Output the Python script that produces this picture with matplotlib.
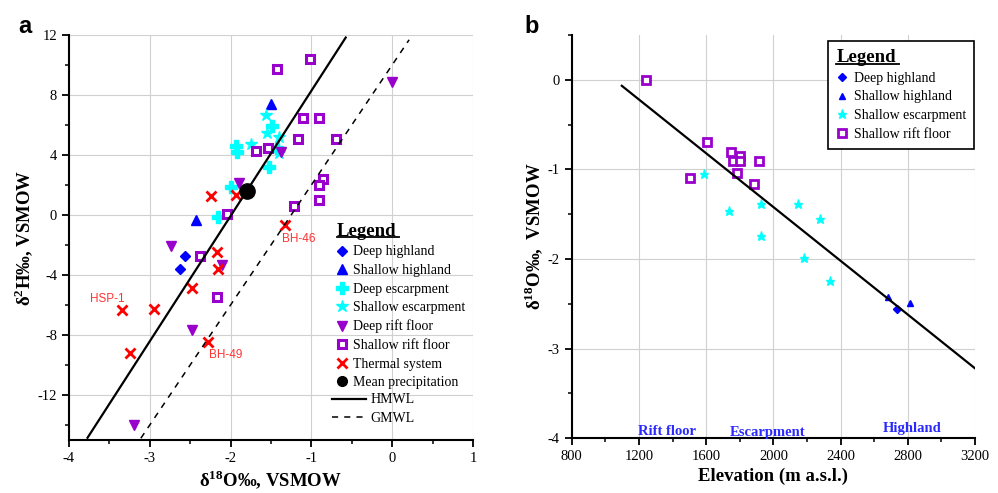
import matplotlib
matplotlib.use("Agg")
import matplotlib.pyplot as plt
from matplotlib.lines import Line2D
from matplotlib.ticker import MultipleLocator

plt.rcParams['font.family'] = ['Liberation Serif', 'DejaVu Serif']
plt.rcParams['mathtext.fontset'] = 'custom'
plt.rcParams['mathtext.rm'] = 'Liberation Serif'
plt.rcParams['mathtext.bf'] = 'Liberation Serif:bold'
plt.rcParams['axes.unicode_minus'] = False

# ---- panel a : d2H vs d18O ----
deep_hl_o = [-2.57, -2.63]
deep_hl_h = [-2.73, -3.58]
shallow_hl_o = [-1.50, -2.43]
shallow_hl_h = [7.42, -0.31]
deep_esc_o = [-1.49, -1.93, -1.92, -1.42, -1.53, -2.00, -2.16]
deep_esc_h = [5.96, 4.57, 4.17, 4.50, 3.20, 1.84, -0.11]
shallow_esc_o = [-1.56, -1.55, -1.40, -1.75, -1.40]
shallow_esc_h = [6.69, 5.47, 5.18, 4.73, 4.13]
deep_rf_o = [0.0, -1.38, -1.89, -2.74, -2.10, -2.48, -3.20]
deep_rf_h = [8.84, 4.20, 2.13, -2.09, -3.36, -7.69, -14.02]
shallow_rf_o = [-1.02, -1.43, -1.10, -0.91, -1.17, -0.70, -1.69, -1.54,
                -0.86, -0.91, -0.91, -1.21, -2.04, -2.38, -2.17]
shallow_rf_h = [10.42, 9.76, 6.44, 6.44, 5.09, 5.04, 4.24, 4.49,
                2.42, 1.98, 1.02, 0.60, 0.09, -2.73, -5.44]
thermal_o = [-2.24, -1.93, -1.33, -2.17, -2.15, -2.48, -3.34, -2.95, -2.28, -3.24]
thermal_h = [1.24, 1.31, -0.64, -2.49, -3.58, -4.84, -6.33, -6.29, -8.49, -9.22]
mean_precip_o = [-1.80]
mean_precip_h = [1.60]

hmwl_slope, hmwl_icpt, hmwl_x = 8.35, 16.63, [-3.77, -0.575]
gmwl_slope, gmwl_icpt, gmwl_x = 8.0, 10.0, [-3.11, 0.21]

well_labels = ["HSP-1", "BH-46", "BH-49"]
well_label_pos = [(-3.53, -5.6), (-1.15, -1.58), (-2.06, -9.31)]

# ---- panel b : d18O vs elevation ----
b_srf_elev = [1240, 1603, 1748, 1802, 1758, 1802, 1915, 1786, 1504, 1883]
b_srf_o = [0.0, -0.69, -0.81, -0.85, -0.91, -0.91, -0.91, -1.04, -1.10, -1.16]
b_sesc_elev = [1589, 1736, 1927, 2149, 2278, 1927, 2183, 2339]
b_sesc_o = [-1.05, -1.46, -1.39, -1.39, -1.55, -1.74, -1.99, -2.25]
b_shl_elev = [2680, 2813]
b_shl_o = [-2.42, -2.49]
b_dhl_elev = [2738]
b_dhl_o = [-2.56]
trend_slope, trend_icpt, trend_x = -0.0015, 1.58, [1098, 3200]

zone_names = ["Rift floor", "Escarpment", "Highland"]
zone_pos = [(1365, -3.96), (1968, -3.97), (2826, -3.93)]

BLUE, CYAN, PURPLE, RED = "#0000ff", "#00ffff", "#9900cc", "#ff0000"
TITLE_FP = {"weight": "bold", "size": 13.5, "family": "Liberation Serif"}

fig = plt.figure(figsize=(9.98, 4.93), dpi=100)
axa = fig.add_axes([0.0691, 0.1075, 0.4048, 0.8215])
axb = fig.add_axes([0.5729, 0.111, 0.4041, 0.818])


def style(ax):
    for s in ("top", "right"):
        ax.spines[s].set_visible(False)
    for s in ("left", "bottom"):
        ax.spines[s].set_linewidth(1.5)
    ax.tick_params(which="major", direction="out", length=5, width=1.3, labelsize=10.5)
    ax.tick_params(which="minor", direction="out", length=3, width=1.1)
    ax.grid(True, which="major", color="#d0d0d0", lw=0.8)
    ax.set_axisbelow(True)


# panel a
style(axa)
axa.plot(deep_hl_o, deep_hl_h, "D", color=BLUE, ms=5.5, ls="none", label="Deep highland")
axa.plot(shallow_hl_o, shallow_hl_h, "^", color=BLUE, ms=6.5, ls="none", label="Shallow highland")
axa.plot(deep_esc_o, deep_esc_h, "P", color=CYAN, ms=8, ls="none", label="Deep escarpment")
axa.plot(shallow_esc_o, shallow_esc_h, "*", color=CYAN, ms=9, ls="none", label="Shallow escarpment")
axa.plot(deep_rf_o, deep_rf_h, "v", color=PURPLE, ms=7, ls="none", label="Deep rift floor")
axa.plot(shallow_rf_o, shallow_rf_h, "s", mfc="white", mec=PURPLE, mew=2.2, ms=5.2, ls="none",
         label="Shallow rift floor")
axa.plot(thermal_o, thermal_h, "x", color=RED, mew=2, ms=7, ls="none", label="Thermal system")
axa.plot(mean_precip_o, mean_precip_h, "o", color="black", ms=11, ls="none", zorder=5)
hm, = axa.plot(hmwl_x, [hmwl_slope * x + hmwl_icpt for x in hmwl_x], "-", color="black", lw=1.6)
gm, = axa.plot(gmwl_x, [gmwl_slope * x + gmwl_icpt for x in gmwl_x], "--", color="black", lw=1.1,
               dashes=(4, 4))
for t, (x, y) in zip(well_labels, well_label_pos):
    axa.text(x, y, t, color="#ff3333", fontsize=8.5, family="Liberation Sans", ha="center", va="center")

axa.set_xlim(-4, 1)
axa.set_ylim(-15, 12)
axa.xaxis.set_major_locator(MultipleLocator(1))
axa.xaxis.set_minor_locator(MultipleLocator(0.5))
axa.yaxis.set_major_locator(MultipleLocator(4))
axa.yaxis.set_minor_locator(MultipleLocator(2))
axa.set_xlabel(r"δ$^{\mathbf{18}}$O‰, VSMOW", fontsize=13.5, fontweight="bold", labelpad=3)
axa.set_ylabel(r"δ$^{\mathbf{2}}$H‰, VSMOW", fontsize=13.5, fontweight="bold", labelpad=1)

h, l = axa.get_legend_handles_labels()
mp = Line2D([], [], marker="o", color="black", ms=7, ls="none")
lega = axa.legend(h + [mp], l + ["Mean precipitation"], loc="upper left",
                  bbox_to_anchor=(0.663, 0.536), frameon=False, fontsize=10,
                  labelspacing=0.4, handlelength=0.8, handletextpad=0.35,
                  borderaxespad=0, borderpad=0, title="Legend", title_fontproperties=TITLE_FP,
                  alignment="left")
axa.add_artist(lega)
axa.legend([hm, gm], ["HMWL", "GMWL"], loc="upper left", bbox_to_anchor=(0.652, 0.115),
           frameon=False, fontsize=10, labelspacing=0.4, handlelength=2.4, handletextpad=0.35,
           borderaxespad=0, borderpad=0)

# panel b
style(axb)
axb.plot(b_dhl_elev, b_dhl_o, "D", color=BLUE, ms=4.5, ls="none", label="Deep highland")
axb.plot(b_shl_elev, b_shl_o, "^", color=BLUE, ms=5, ls="none", label="Shallow highland")
axb.plot(b_sesc_elev, b_sesc_o, "*", color=CYAN, ms=6.5, ls="none", label="Shallow escarpment")
axb.plot(b_srf_elev, b_srf_o, "s", mfc="white", mec=PURPLE, mew=2, ms=5.5, ls="none",
         label="Shallow rift floor")
axb.plot(trend_x, [trend_slope * x + trend_icpt for x in trend_x], "-", color="black", lw=1.6)
for t, (x, y) in zip(zone_names, zone_pos):
    axb.text(x, y, t, color="#2a2aff", fontsize=10.5, fontweight="bold", ha="center", va="baseline")

axb.set_xlim(800, 3200)
axb.set_ylim(-4, 0.5)
axb.xaxis.set_major_locator(MultipleLocator(400))
axb.xaxis.set_minor_locator(MultipleLocator(200))
axb.yaxis.set_major_locator(MultipleLocator(1))
axb.yaxis.set_minor_locator(MultipleLocator(0.5))
axb.set_xlabel("Elevation (m a.s.l.)", fontsize=13.5, fontweight="bold", labelpad=3)
axb.set_ylabel(r"δ$^{\mathbf{18}}$O‰,  VSMOW", fontsize=13.5, fontweight="bold", labelpad=1.5)

legb = axb.legend(loc="upper left", bbox_to_anchor=(0.6355, 0.985), frameon=True, fancybox=False,
                  edgecolor="black", fontsize=10, labelspacing=0.4, handlelength=0.8,
                  handletextpad=0.45, borderaxespad=0, borderpad=0.6, title="Legend",
                  title_fontproperties=TITLE_FP, alignment="left")
legb.get_frame().set_linewidth(1.2)
legb.get_frame().set_alpha(1)

fig.text(0.018, 0.97, "a", fontsize=17, fontweight="bold", family="Liberation Sans", va="top")
fig.text(0.526, 0.97, "b", fontsize=17, fontweight="bold", family="Liberation Sans", va="top")

# underline the legend titles
fig.canvas.draw()
inv = fig.transFigure.inverted()
for leg in (lega, legb):
    bb = leg.get_title().get_window_extent()
    (x0, y0), (x1, _) = inv.transform([(bb.x0, bb.y0), (bb.x1 + 3, bb.y0)])
    fig.add_artist(Line2D([x0, x1], [y0 + 0.005, y0 + 0.005], transform=fig.transFigure,
                          color="black", lw=1.3))

fig.savefig("out.png", dpi=100)
